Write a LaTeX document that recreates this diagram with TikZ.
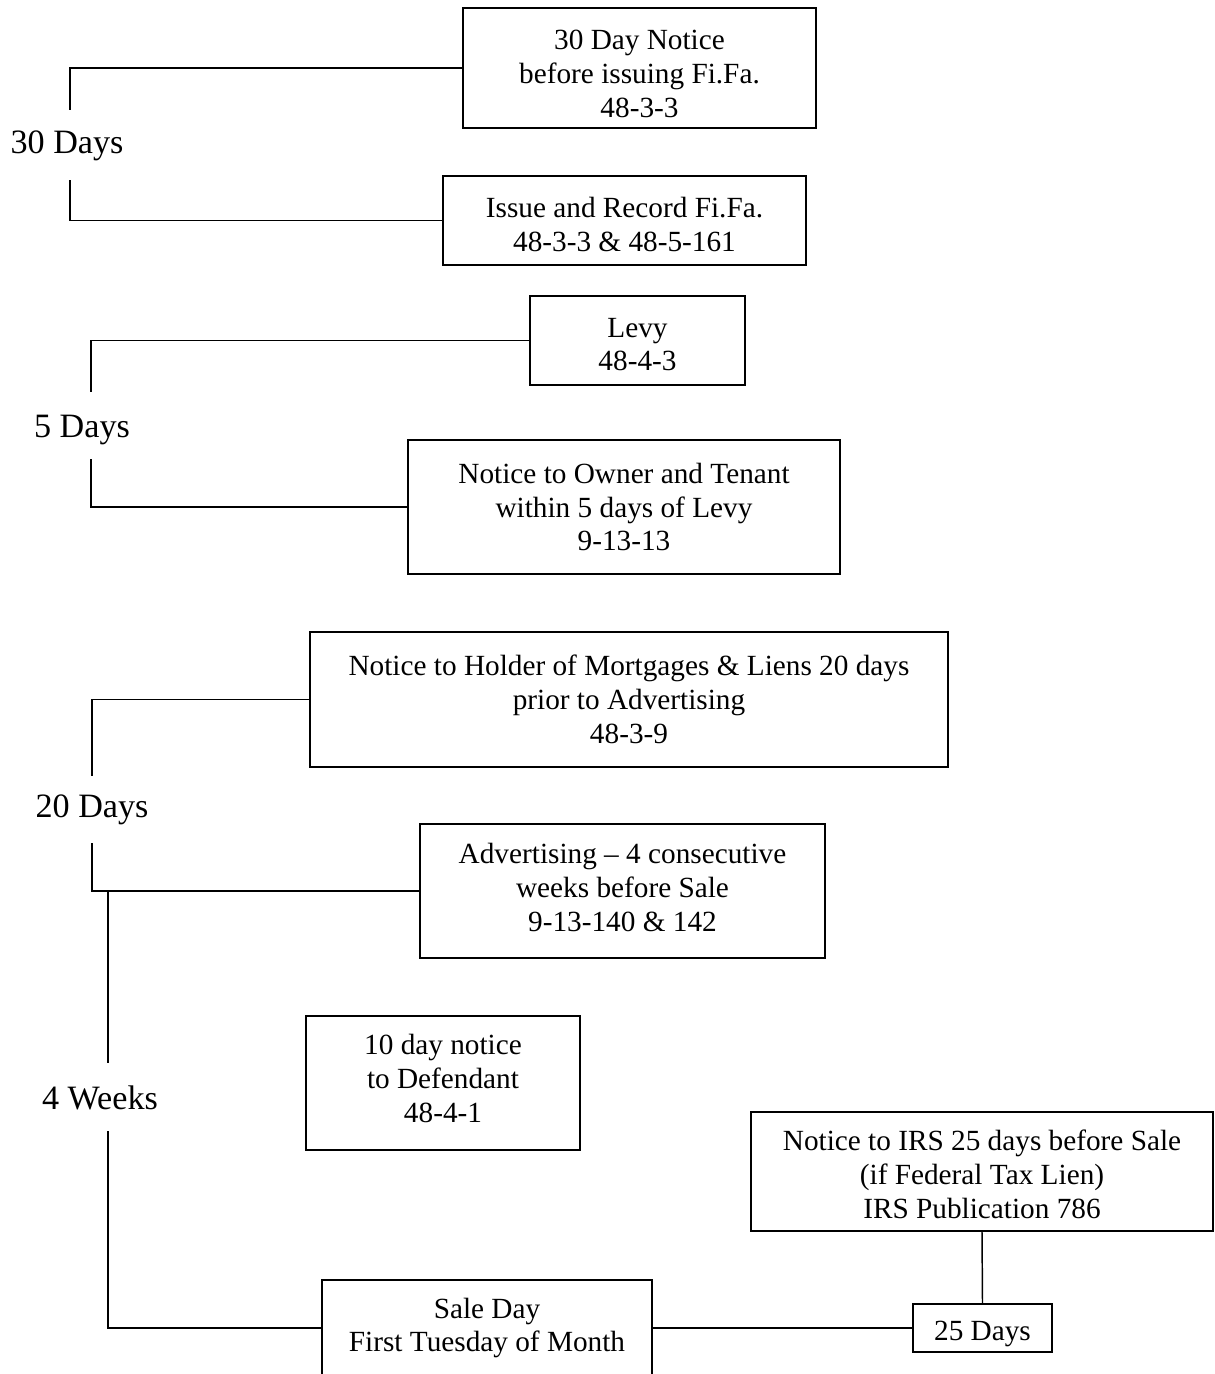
\documentclass[tikz,border=0pt]{standalone}
\usepackage{fontspec}
\setmainfont{Liberation Serif}

% strut that pushes the text of a box downwards
\newcommand{\bas}[1]{\rule{0pt}{#1}}

\begin{document}
\begin{tikzpicture}[x=0.41pt, y=-0.41pt, line width=0.6pt,
  etape/.style={draw, line width=0.7pt, align=center, inner sep=0pt,
    font=\fontsize{12}{13.9}\selectfont},
  haut/.style={execute at end node={\rule[-#1]{0pt}{0pt}}},
  delai/.style={inner sep=0pt, font=\fontsize{14}{16}\selectfont}]
  % unit of the drawing (one pixel of the page)
  \def\px{0.41pt}
  \useasboundingbox (0,0) rectangle (1215,1374);
  % steps
  \node[etape, minimum width=353*\px, minimum height=120*\px] (avis) at (639.5,68)
    {\bas{12.9pt}30 Day Notice\\before issuing Fi.Fa.\\48-3-3};
  \node[etape, minimum width=363*\px, minimum height=89*\px] (fifa) at (624.5,220.5)
    {\bas{11.5pt}Issue and Record Fi.Fa.\\48-3-3 \& 48-5-161};
  \node[etape, minimum width=215*\px, minimum height=89*\px] (levy) at (637.5,340.5)
    {\bas{11.2pt}Levy\\48-4-3};
  \node[etape, minimum width=432*\px, minimum height=134*\px] (proprio) at (624,507)
    {Notice to Owner and Tenant\\within 5 days of Levy\\9-13-13};
  \node[etape, minimum width=638*\px, minimum height=135*\px] (hypo) at (629,699.5)
    {Notice to Holder of Mortgages \& Liens 20 days\\prior to Advertising\\48-3-9};
  \node[etape, haut=3.3pt, minimum width=405*\px, minimum height=134*\px] (pub) at (622.5,891)
    {Advertising -- 4 consecutive\\weeks before Sale\\9-13-140 \& 142};
  \node[etape, haut=4pt, minimum width=274*\px, minimum height=134*\px] (defendeur) at (443,1083)
    {10 day notice\\to Defendant\\48-4-1};
  \node[etape, minimum width=462*\px, minimum height=119*\px] (irs) at (982,1171.5)
    {\bas{10.7pt}Notice to IRS 25 days before Sale\\(if Federal Tax Lien)\\IRS Publication 786};
  \node[etape, minimum width=330*\px, minimum height=96*\px] (vente) at (487,1328)
    {Sale Day\\First Tuesday of Month};
  \node[etape, minimum width=139*\px, minimum height=48*\px] (j25) at (982.5,1328)
    {\bas{12.9pt}25 Days};
  % delays
  \node[delai] (d30) at (67,146) {30 Days};
  \node[delai] (d5) at (82,430) {5 Days};
  \node[delai] (d20) at (92,810) {20 Days};
  \node[delai] (d4) at (100,1097.5) {4 Weeks};
  % ends of the brackets
  \coordinate (h30) at (70,110);  \coordinate (b30) at (70,180);
  \coordinate (h5) at (91,392);   \coordinate (b5) at (91,459);
  \coordinate (h20) at (92,776);  \coordinate (b20) at (92,843);
  \coordinate (h4) at (108,1063); \coordinate (b4) at (108,1131);
  % brackets
  \draw (avis.west) -| (h30);
  \draw (b30) |- (fifa.west);
  \draw (levy.west) -| (h5);
  \draw (b5) |- (proprio.west);
  \draw (hypo.west) -| (h20);
  \draw (b20) |- (pub.west);
  \draw (pub.west -| h4) -- (h4);
  \draw (b4) |- (vente.west);
  % sale day and IRS
  \draw (vente.east) -- (j25.west);
  \draw (irs.south) -- (j25.north);
\end{tikzpicture}
\end{document}
